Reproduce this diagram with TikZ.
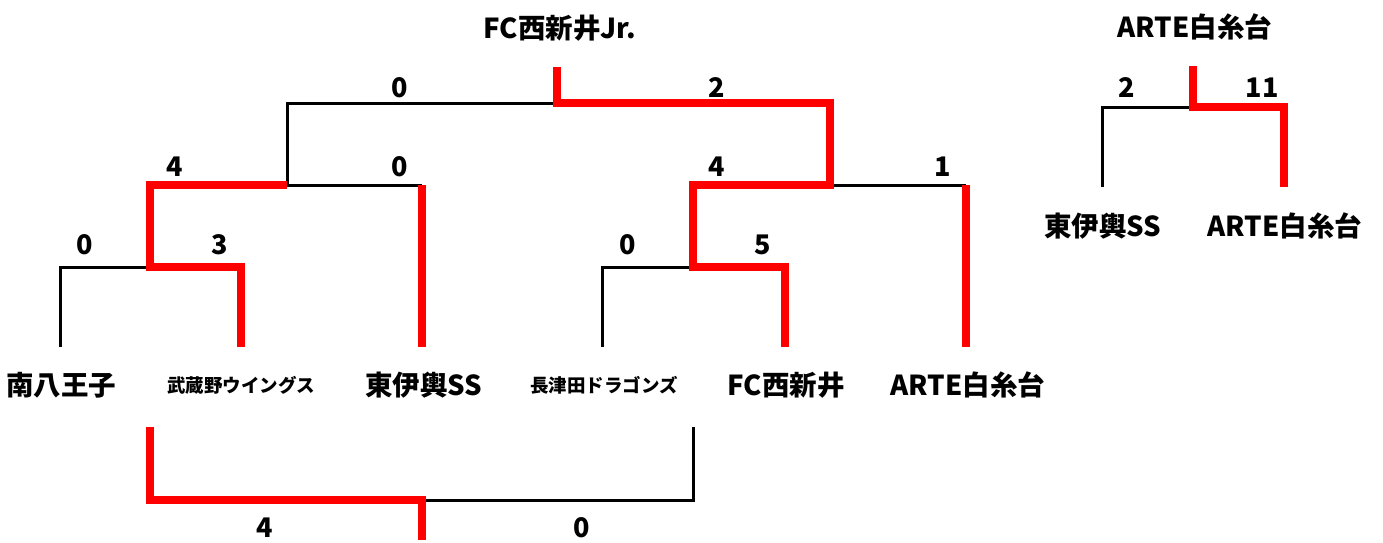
\documentclass[tikz,border=0pt]{standalone}
\usepackage{fontspec}
\setmainfont{Noto Sans CJK JP}
\usetikzlibrary{positioning,calc}

\begin{document}
\begin{tikzpicture}[x=1pt, y=-1pt,
  win/.style={draw=red, line width=8pt},
  lose/.style={draw=black, line width=3pt},
  team/.style={font=\fontsize{27.5}{30}\selectfont\bfseries},
  smallteam/.style={font=\fontsize{18.5}{20}\selectfont\bfseries},
  score/.style={font=\fontsize{27}{30}\selectfont\bfseries}]
  \useasboundingbox (0,0) rectangle (1383,542);

  % Leaves
  \node[team]      (hach) at (61,385)  {南八王子};
  \node[smallteam] (musa) at (241,385) {武蔵野ウイングス};
  \node[team]      (higa) at (424,385) {東伊輿SS};
  \node[smallteam] (naga) at (604,385) {長津田ドラゴンズ};
  \node[team]      (fcn)  at (786,385) {FC西新井};
  \node[team]      (arte) at (968,385) {ARTE白糸台};
  \node[team]      (champ) at (560,28) {FC西新井Jr.};

  \coordinate (hach-t) at (60,347);
  \coordinate (musa-t) at (241,347);
  \coordinate (higa-t) at (422,347);
  \coordinate (naga-t) at (602,347);
  \coordinate (fcn-t)  at (785,347);
  \coordinate (arte-t) at (966,347);

  % Junctions
  \coordinate (m1) at (150,267);
  \coordinate (m2) at (693,267);
  \coordinate (s1) at (287,185);
  \coordinate (s2) at (830,185);
  \coordinate (fin) at (557,103);
  \coordinate (fin-t) at (557,67);

  \draw[lose] (hach-t) |- (m1);
  \draw[lose] (naga-t) |- (m2);
  \draw[lose] (s1) -- (higa-t |- s1);
  \draw[lose] (s2) -- (arte-t |- s2);
  \draw[lose] (s1) |- (fin);
  \draw[win] (musa-t) |- (m1) |- (s1);
  \draw[win] (higa-t) -- (higa-t |- s1);
  \draw[win] (arte-t) -- (arte-t |- s2);
  \draw[win] (fin-t) -- (fin) -| (s2) -| (m2) -| (fcn-t);

  \node[score] at (85,245)  {0};
  \node[score] at (220,245) {3};
  \node[score] at (628,245) {0};
  \node[score] at (763,245) {5};
  \node[score] at (175,167) {4};
  \node[score] at (400,167) {0};
  \node[score] at (717,167) {4};
  \node[score] at (943,167) {1};
  \node[score] at (400,88)  {0};
  \node[score] at (717,88)  {2};

  % Lower match
  \coordinate (lo-l) at (150,427);
  \coordinate (lo-r) at (693,427);
  \coordinate (lo) at (422,500);
  \coordinate (lo-b) at (422,540);
  \draw[lose] (lo) -| (lo-r);
  \draw[win] (lo-l) |- (lo) -- (lo-b);
  \node[score] at (265,528) {4};
  \node[score] at (582,528) {0};

  % Side bracket
  \node[team] (champ2) at (1195,27)  {ARTE白糸台};
  \node[team] (higa2)  at (1103,226) {東伊輿SS};
  \node[team] (arte2)  at (1285,226) {ARTE白糸台};
  \coordinate (higa2-t) at (1102,187);
  \coordinate (arte2-t) at (1284,187);
  \coordinate (r) at (1193,107);
  \coordinate (r-t) at (1193,66);
  \draw[lose] (higa2-t) |- (r);
  \draw[win] (r-t) -- (r) -| (arte2-t);
  \node[score] at (1127,88) {2};
  \node[score] at (1262,88) {11};
\end{tikzpicture}
\end{document}
